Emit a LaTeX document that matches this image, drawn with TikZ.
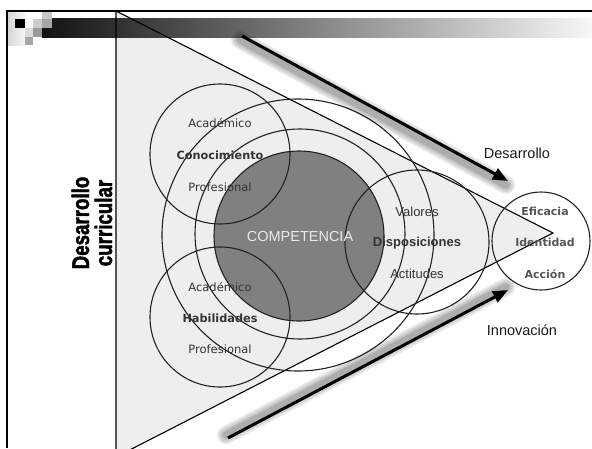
\documentclass[tikz,border=0pt]{standalone}
\usepackage{fontspec}
\setmainfont{Liberation Sans}
\newfontfamily\dv{DejaVu Sans}
\newfontfamily\heavyfont{Liberation Sans}[BoldFeatures={FakeBold=2}]
\usetikzlibrary{arrows.meta}
\definecolor{trifill}{HTML}{EEEEEE}
\definecolor{darkc}{HTML}{808080}
\definecolor{linec}{HTML}{222222}
\definecolor{txtc}{HTML}{333333}
\definecolor{effc}{HTML}{555555}
\begin{document}
\begin{tikzpicture}[x=1pt,y=-1pt,
  ring/.style={circle, draw=linec, line width=1.1pt, inner sep=0pt, minimum size=#1},
  lblA/.style={font=\dv\fontsize{11.5}{13}\selectfont, text=txtc, inner sep=0pt},
  lblAb/.style={font=\dv\bfseries\fontsize{11.3}{13}\selectfont, text=txtc, inner sep=0pt},
  lblB/.style={font=\fontsize{13}{15}\selectfont, text=txtc, inner sep=0pt},
  lblBb/.style={font=\bfseries\fontsize{13}{15}\selectfont, text=txtc, inner sep=0pt},
  lblE/.style={font=\dv\bfseries\fontsize{11}{13}\selectfont, text=effc, inner sep=0pt},
  side/.style={font=\fontsize{14.5}{16}\selectfont, text=black!90, inner sep=0pt},
  vtext/.style={rotate=90, anchor=base, inner sep=0pt, font=\heavyfont\bfseries\fontsize{24}{26}\selectfont},
  bigarrow/.style={line width=3pt, -{Triangle[length=15pt,width=12pt]}},
  glow/.style={line width=#1, draw=black, opacity=0.09, line cap=round},
  sq/.style={fill=#1, draw=none}
]
\useasboundingbox (0,0) rectangle (592,448);
\clip (0,0) rectangle (592,448);
\fill[white] (0,0) rectangle (592,448);

% triangle fill
\coordinate (tA) at (116,11);
\coordinate (tB) at (553,233);
\coordinate (tC) at (116,457);
\fill[trifill] (tA) -- (tB) -- (tC) -- cycle;

% header bar and squares
\shade[left color=black!93, right color=black!3] (42,18) rectangle (592,37);
\shade[left color=black!16, right color=black!3] (8,12) rectangle (25,45);
\fill[sq=black] (15,19) rectangle (25,28);
\fill[sq=white] (25,19) rectangle (33,28);
\fill[sq=black!20] (33,19) rectangle (42,28);
\fill[sq=black!22] (42,12) rectangle (52,19);
\fill[sq=black!35] (42,19) rectangle (52,28);
\fill[sq=black!14] (25,28) rectangle (33,37);
\fill[sq=black!40] (33,28) rectangle (42,37);
\fill[sq=black!35] (25,37) rectangle (33,45);
\fill[sq=black!90] (52,18) rectangle (60,37);

% triangle outline
\draw[line width=1.1pt, black] (tA) -- (tB) -- (tC) -- cycle;

% frame
\draw[line width=2pt, black] (7,448) -- (7,11) -- (592,11);

% circles
\node[ring=272] (outer) at (298,235) {};
\node[ring=210] (mid) at (300,234) {};
\node[ring=170, fill=darkc] (comp) at (299,236) {};
\node[ring=140] (con) at (220,154) {};
\node[ring=140] (hab) at (220,317) {};
\node[ring=144] (dis) at (417,242) {};
\node[ring=98] (efi) at (541,241) {};

% labels
\node[font=\fontsize{14.5}{16}\selectfont, text=black!8, inner sep=0pt] (compt) at (300,237) {COMPETENCIA};

\node[lblA] (conA) at (220,123) {Académico};
\node[lblAb] (conC) at (220,155) {Conocimiento};
\node[lblA] (conP) at (220,187) {Profesional};

\node[lblA] (habA) at (220,287) {Académico};
\node[lblAb] (habH) at (220,318) {Habilidades};
\node[lblA] (habP) at (220,349) {Profesional};

\node[lblB] (disV) at (417,212) {Valores};
\node[lblBb] (disD) at (417,243) {Disposiciones};
\node[lblB] (disA) at (417,274) {Actitudes};

\node[lblE] (efE) at (545,211) {Eficacia};
\node[lblE] (efI) at (545,242) {Identidad};
\node[lblE] (efA) at (545,274) {Acción};

\node[side] (des) at (517,153) {Desarrollo};
\node[side] (inn) at (522,330) {Innovación};

\node[vtext] (dc1) at (89,223) {\scalebox{0.78}[1]{Desarrollo}};
\node[vtext] (dc2) at (112,223) {\scalebox{0.78}[1]{curricular}};

% arrows with soft shadow
\coordinate (a1s) at (242,36);
\coordinate (a1e) at (508,181);
\coordinate (a2s) at (228,438);
\coordinate (a2e) at (508,290);
\foreach \w in {18,14,10,7}{
  \draw[glow=\w pt] ([shift={(-2,4)}]a1s) -- ([shift={(-2,4)}]a1e);
  \draw[glow=\w pt] ([shift={(-2,-3)}]a2s) -- ([shift={(-2,-3)}]a2e);
}
\draw[bigarrow] (a1s) -- (a1e);
\draw[bigarrow] (a2s) -- (a2e);
\end{tikzpicture}
\end{document}
